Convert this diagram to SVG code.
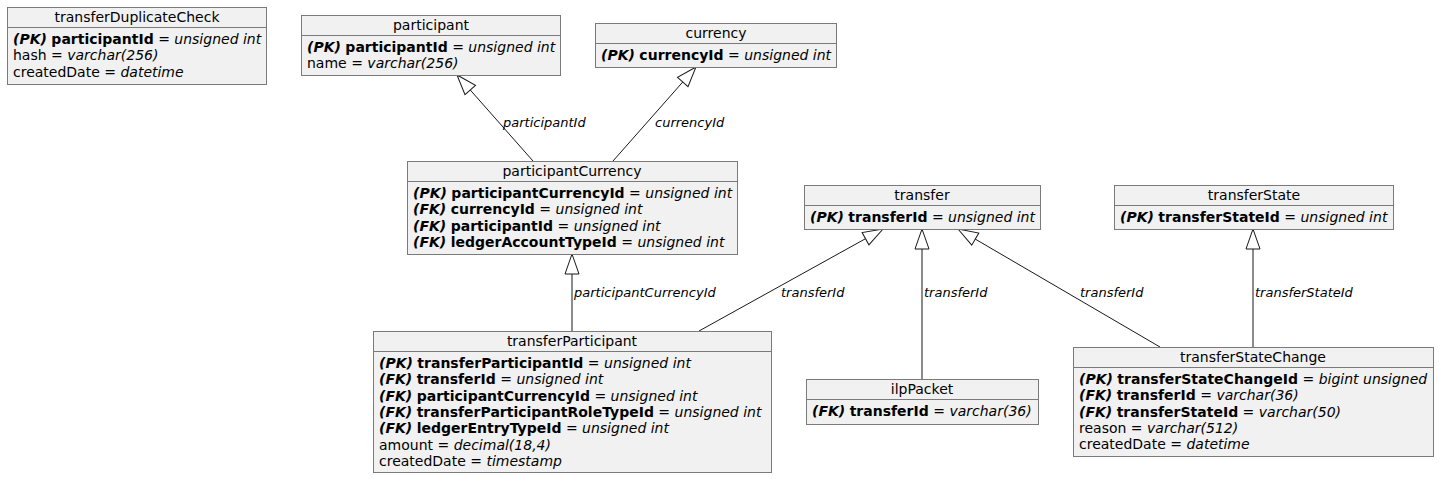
<svg xmlns="http://www.w3.org/2000/svg" width="1439" height="479" viewBox="0 0 1439 479">
<style>
text{font-family:"DejaVu Sans","Liberation Sans",sans-serif;font-size:14px;fill:#000}
.box{fill:#F1F1F1;stroke:#7a7a7a;stroke-width:1}
.sep{stroke:#7a7a7a;stroke-width:1}
.h{text-anchor:middle}
.k{font-weight:bold;font-style:italic}
.b{font-weight:bold}
.i{font-style:italic}
.lbl{font-size:13px;font-style:italic}
.edge{stroke:#181818;stroke-width:1;fill:none}
</style>
<defs>
<marker id="tri" markerUnits="userSpaceOnUse" markerWidth="24" markerHeight="18" viewBox="-21 -9 24 18" refX="0" refY="0" orient="auto">
<path d="M0,0 L-20,-7 L-20,7 Z" fill="#ffffff" stroke="#181818" stroke-width="1"/>
</marker>
</defs>
<rect width="1439" height="479" fill="#ffffff"/>
<g id="connectors">
<line class="edge" x1="533" y1="161" x2="457" y2="75" marker-end="url(#tri)"/>
<line class="edge" x1="613" y1="161" x2="696" y2="67" marker-end="url(#tri)"/>
<line class="edge" x1="572" y1="331" x2="572" y2="254" marker-end="url(#tri)"/>
<line class="edge" x1="699" y1="331" x2="883" y2="229" marker-end="url(#tri)"/>
<line class="edge" x1="922" y1="379" x2="922" y2="229" marker-end="url(#tri)"/>
<line class="edge" x1="1160" y1="347" x2="958" y2="229" marker-end="url(#tri)"/>
<line class="edge" x1="1253" y1="347" x2="1253" y2="229" marker-end="url(#tri)"/>
<text class="lbl" x="503" y="127">participantId</text>
<text class="lbl" x="655" y="127">currencyId</text>
<text class="lbl" x="574" y="297">participantCurrencyId</text>
<text class="lbl" x="781" y="297">transferId</text>
<text class="lbl" x="924" y="297">transferId</text>
<text class="lbl" x="1080" y="297">transferId</text>
<text class="lbl" x="1255" y="297">transferStateId</text>
</g>
<g id="transferDuplicateCheck">
<rect class="box" x="7.5" y="7.5" width="259" height="77"/>
<line class="sep" x1="7.5" y1="27.5" x2="266.5" y2="27.5"/>
<text class="h" x="137" y="22">transferDuplicateCheck</text>
<text x="13" y="44"><tspan class="k">(PK)</tspan> <tspan class="b">participantId</tspan> = <tspan class="i">unsigned int</tspan></text>
<text x="13" y="60.3">hash = <tspan class="i">varchar(256)</tspan></text>
<text x="13" y="76.6">createdDate = <tspan class="i">datetime</tspan></text>
</g>
<g id="participant">
<rect class="box" x="301.5" y="15.5" width="259" height="60"/>
<line class="sep" x1="301.5" y1="35.5" x2="560.5" y2="35.5"/>
<text class="h" x="431" y="30">participant</text>
<text x="307" y="52"><tspan class="k">(PK)</tspan> <tspan class="b">participantId</tspan> = <tspan class="i">unsigned int</tspan></text>
<text x="307" y="68.3">name = <tspan class="i">varchar(256)</tspan></text>
</g>
<g id="currency">
<rect class="box" x="595.5" y="23.5" width="241" height="44"/>
<line class="sep" x1="595.5" y1="43.5" x2="836.5" y2="43.5"/>
<text class="h" x="716" y="38">currency</text>
<text x="601" y="60"><tspan class="k">(PK)</tspan> <tspan class="b">currencyId</tspan> = <tspan class="i">unsigned int</tspan></text>
</g>
<g id="participantCurrency">
<rect class="box" x="407.5" y="161.5" width="330" height="93"/>
<line class="sep" x1="407.5" y1="181.5" x2="737.5" y2="181.5"/>
<text class="h" x="572" y="176">participantCurrency</text>
<text x="413" y="198"><tspan class="k">(PK)</tspan> <tspan class="b">participantCurrencyId</tspan> = <tspan class="i">unsigned int</tspan></text>
<text x="413" y="214.3"><tspan class="k">(FK)</tspan> <tspan class="b">currencyId</tspan> = <tspan class="i">unsigned int</tspan></text>
<text x="413" y="230.6"><tspan class="k">(FK)</tspan> <tspan class="b">participantId</tspan> = <tspan class="i">unsigned int</tspan></text>
<text x="413" y="246.9"><tspan class="k">(FK)</tspan> <tspan class="b">ledgerAccountTypeId</tspan> = <tspan class="i">unsigned int</tspan></text>
</g>
<g id="transfer">
<rect class="box" x="804.5" y="185.5" width="236" height="44"/>
<line class="sep" x1="804.5" y1="205.5" x2="1040.5" y2="205.5"/>
<text class="h" x="922" y="200">transfer</text>
<text x="810" y="222"><tspan class="k">(PK)</tspan> <tspan class="b">transferId</tspan> = <tspan class="i">unsigned int</tspan></text>
</g>
<g id="transferState">
<rect class="box" x="1114.5" y="185.5" width="279" height="44"/>
<line class="sep" x1="1114.5" y1="205.5" x2="1393.5" y2="205.5"/>
<text class="h" x="1254" y="200">transferState</text>
<text x="1120" y="222"><tspan class="k">(PK)</tspan> <tspan class="b">transferStateId</tspan> = <tspan class="i">unsigned int</tspan></text>
</g>
<g id="transferParticipant">
<rect class="box" x="373.5" y="331.5" width="398" height="141"/>
<line class="sep" x1="373.5" y1="351.5" x2="771.5" y2="351.5"/>
<text class="h" x="572" y="346">transferParticipant</text>
<text x="379" y="368"><tspan class="k">(PK)</tspan> <tspan class="b">transferParticipantId</tspan> = <tspan class="i">unsigned int</tspan></text>
<text x="379" y="384.3"><tspan class="k">(FK)</tspan> <tspan class="b">transferId</tspan> = <tspan class="i">unsigned int</tspan></text>
<text x="379" y="400.6"><tspan class="k">(FK)</tspan> <tspan class="b">participantCurrencyId</tspan> = <tspan class="i">unsigned int</tspan></text>
<text x="379" y="416.9"><tspan class="k">(FK)</tspan> <tspan class="b">transferParticipantRoleTypeId</tspan> = <tspan class="i">unsigned int</tspan></text>
<text x="379" y="433.2"><tspan class="k">(FK)</tspan> <tspan class="b">ledgerEntryTypeId</tspan> = <tspan class="i">unsigned int</tspan></text>
<text x="379" y="449.5">amount = <tspan class="i">decimal(18,4)</tspan></text>
<text x="379" y="465.8">createdDate = <tspan class="i">timestamp</tspan></text>
</g>
<g id="ilpPacket">
<rect class="box" x="806.5" y="379.5" width="232" height="45"/>
<line class="sep" x1="806.5" y1="399.5" x2="1038.5" y2="399.5"/>
<text class="h" x="922" y="394">ilpPacket</text>
<text x="812" y="416"><tspan class="k">(FK)</tspan> <tspan class="b">transferId</tspan> = <tspan class="i">varchar(36)</tspan></text>
</g>
<g id="transferStateChange">
<rect class="box" x="1073.5" y="347.5" width="360" height="109"/>
<line class="sep" x1="1073.5" y1="367.5" x2="1433.5" y2="367.5"/>
<text class="h" x="1253" y="362">transferStateChange</text>
<text x="1079" y="384"><tspan class="k">(PK)</tspan> <tspan class="b">transferStateChangeId</tspan> = <tspan class="i">bigint unsigned</tspan></text>
<text x="1079" y="400.3"><tspan class="k">(FK)</tspan> <tspan class="b">transferId</tspan> = <tspan class="i">varchar(36)</tspan></text>
<text x="1079" y="416.6"><tspan class="k">(FK)</tspan> <tspan class="b">transferStateId</tspan> = <tspan class="i">varchar(50)</tspan></text>
<text x="1079" y="432.9">reason = <tspan class="i">varchar(512)</tspan></text>
<text x="1079" y="449.2">createdDate = <tspan class="i">datetime</tspan></text>
</g>
</svg>
